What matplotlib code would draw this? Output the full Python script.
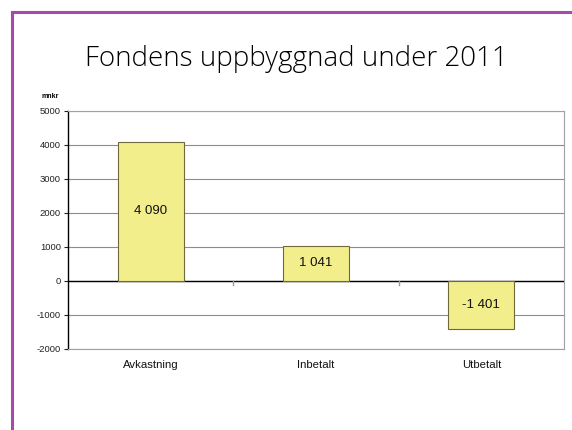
import matplotlib
matplotlib.use("Agg")
import matplotlib.pyplot as plt
from matplotlib.lines import Line2D

categories = ["Avkastning", "Inbetalt", "Utbetalt"]
values = [4090, 1041, -1401]
value_labels = ["4 090", "1 041", "-1 401"]
yticks = [-2000, -1000, 0, 1000, 2000, 3000, 4000, 5000]

W, H = 572, 430
fig = plt.figure(figsize=(W / 100, H / 100), dpi=100)
fig.patch.set_facecolor("white")

# purple frame lines
purple = "#A64CA6"
fig.add_artist(Line2D([12 / W, 1.0], [1 - 12 / H, 1 - 12 / H], color=purple, lw=2.2, transform=fig.transFigure))
fig.add_artist(Line2D([12 / W, 12 / W], [0, 1 - 12 / H], color=purple, lw=2.2, transform=fig.transFigure))

fig.text(296 / W, 1 - 59 / H, "Fondens uppbyggnad under 2011", ha="center", va="center",
         fontsize=20, family="Open Sans", fontweight="light", color="#000000")

left, right, top, bottom = 68, 564, 111, 349
ax = fig.add_axes([left / W, 1 - bottom / H, (right - left) / W, (bottom - top) / H])
x = list(range(len(categories)))
ax.bar(x, values, width=0.4, color="#F3EE8C", edgecolor="#6E6A3A", linewidth=0.8, zorder=3)
for xi, v, lab in zip(x, values, value_labels):
    ax.text(xi, v / 2, lab, ha="center", va="center", fontsize=9.5, family="Liberation Sans",
            color="#111111", zorder=4)

ax.set_xlim(-0.5, 2.5)
ax.set_ylim(-2000, 5000)
ax.set_yticks(yticks)
ax.set_yticklabels([str(t) for t in yticks], fontsize=6.8, family="Liberation Sans")
ax.yaxis.grid(True, color="#8C8C8C", lw=0.8, zorder=0)
ax.axhline(0, color="black", lw=1.0, zorder=2)
ax.set_xticks([])
for b in [0.5, 1.5]:
    ax.plot([b, b], [0, -130], color="#999999", lw=1.0, zorder=2, clip_on=False)
for xi, c in zip(x, categories):
    ax.text(xi, -2480, c, ha="center", va="center", fontsize=8.2, family="Liberation Sans", color="#111111")
ax.tick_params(axis="y", length=3, width=0.8, pad=2, colors="#222222")
ax.spines["left"].set_color("black")
ax.spines["left"].set_linewidth(1.0)
for s in ["top", "right", "bottom"]:
    ax.spines[s].set_color("#A0A0A0")
    ax.spines[s].set_linewidth(0.8)

fig.text(50 / W, 1 - 97 / H, "mnkr", ha="center", va="center", fontsize=5, fontweight="bold",
         family="Liberation Sans")

fig.savefig("out.png", dpi=100)
